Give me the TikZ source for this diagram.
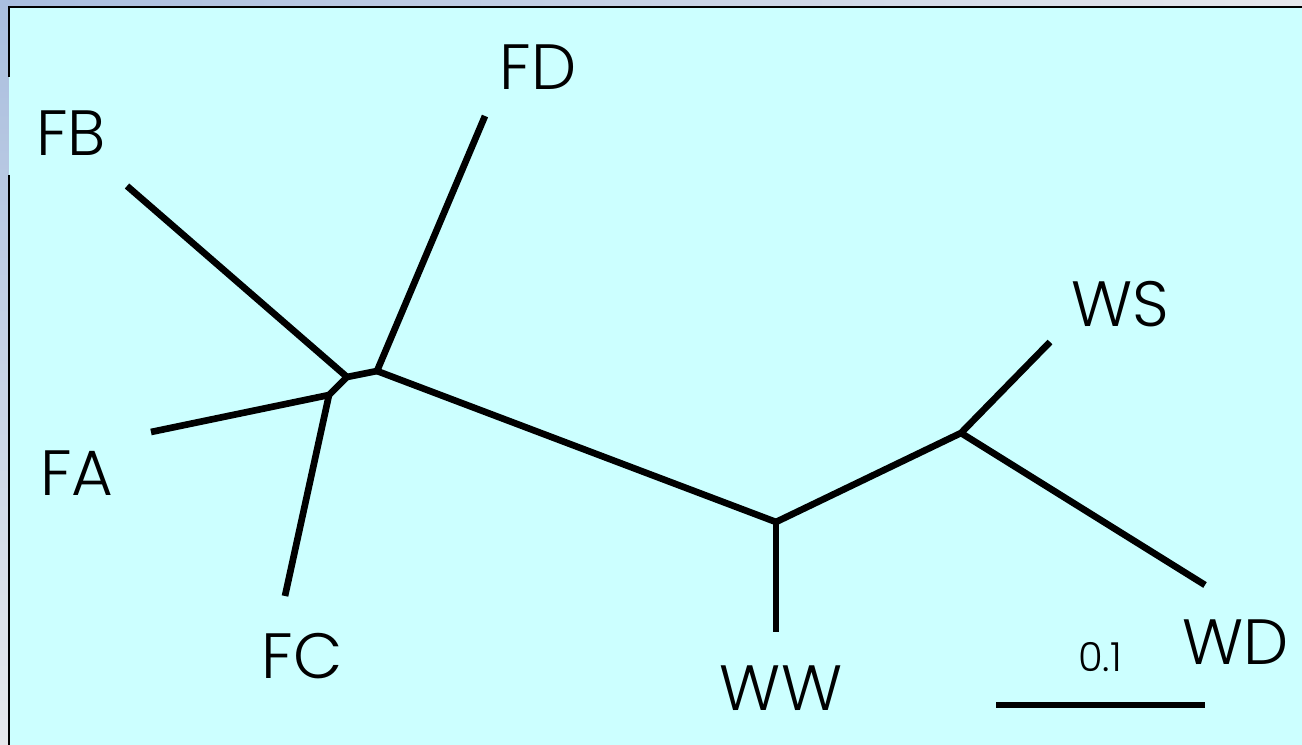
\documentclass[tikz,border=0pt]{standalone}
\usepackage{fontspec}
\setmainfont{Poppins}[UprightFont=* Light]
\definecolor{bgcyan}{HTML}{CCFFFF}
\definecolor{frameA}{HTML}{A9BEDF}
\definecolor{frameB}{HTML}{E6E8EC}
\begin{document}
\begin{tikzpicture}[x=0.75pt,y=-0.75pt,
  branch/.style={line width=5pt,line cap=butt,line join=miter},
  leaf/.style={font=\fontsize{48}{52}\selectfont,inner sep=0pt},
  scalelbl/.style={font=\fontsize{30}{34}\selectfont,inner sep=0pt}]
\useasboundingbox (0,0) rectangle (1302,745);
\shade[left color=frameA,right color=frameB] (0,0) rectangle (1302,745);
\shade[top color=frameA,bottom color=frameB] (0,0) rectangle (9,745);
\fill[bgcyan] (9,7) rectangle (1302,745);
\draw[line width=1.6pt] (1302,7) -- (9,7) -- (9,77);
\draw[line width=1.6pt] (9,175) -- (9,745);
% internal nodes
\coordinate (A) at (347,377);
\coordinate (B) at (377,371);
\coordinate (C) at (329,395);
\coordinate (W1) at (776,522);
\coordinate (W2) at (961,433);
% leaves
\coordinate (fb) at (127,186);
\coordinate (fd) at (485,116);
\coordinate (fa) at (151,432);
\coordinate (fc) at (285,596);
\coordinate (ww) at (776,632);
\coordinate (ws) at (1050,342);
\coordinate (wd) at (1205,585);
\coordinate (s1) at (996,705);
\coordinate (s2) at (1205,705);
\draw[branch] (fb) -- (A);
\draw[branch] (A) -- (B);
\draw[branch] (A) -- (C);
\draw[branch] (fd) -- (B);
\draw[branch] (fa) -- (C);
\draw[branch] (fc) -- (C);
\draw[branch] (B) -- (W1);
\draw[branch] (W1) -- (ww);
\draw[branch] (W1) -- (W2);
\draw[branch] (W2) -- (ws);
\draw[branch] (W2) -- (wd);
\draw[branch] (s1) -- (s2);
% labels
\node[leaf] (lfb) at (71,133) {FB};
\node[leaf] (lfd) at (538,67) {FD};
\node[leaf] (lfa) at (77,473) {FA};
\node[leaf] (lfc) at (302,656) {FC};
\node[leaf] (lww) at (781,688) {WW};
\node[leaf] (lws) at (1120,304) {WS};
\node[leaf] (lwd) at (1236,642) {WD};
\node[scalelbl] (lsc) at (1100,657) {0.1};
\end{tikzpicture}
\end{document}
